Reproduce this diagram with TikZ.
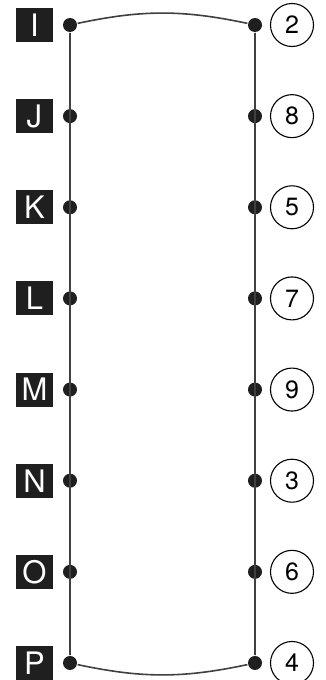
\documentclass[tikz,border=0pt]{standalone}
\usepackage{fontspec}
\setmainfont{TeX Gyre Heros}
\usepackage{tikz}
\usetikzlibrary{positioning}

\begin{document}
\begin{tikzpicture}[x=1pt,y=-1pt,line width=1.6pt,
    letter/.style={fill=black!88,text=white,minimum width=37pt,minimum height=34pt,inner sep=0pt,font=\fontsize{31}{31}\selectfont},
    number/.style={circle,draw,line width=1.1pt,minimum size=43pt,inner sep=0pt,font=\fontsize{25}{25}\selectfont},
    dot/.style={circle,fill=black!88,minimum size=14pt,inner sep=0pt}]
    \useasboundingbox (0,0) rectangle (326,680);

    \foreach \l/\n [count=\i] in {I/2,J/8,K/5,L/7,M/9,N/3,O/6,P/4}{
        \node[dot] (a\i) at (70,{25+91.14*(\i-1)}) {};
        \node[dot] (b\i) at (255,{25+91.14*(\i-1)}) {};
        \node[letter] (let\i) at (34.5,{25+91.14*(\i-1)}) {\l};
        \node[number] (num\i) at (292,{25+91.14*(\i-1)}) {\n};
    }

    \draw[black!75] (a1) -- (a8)
          (b1) -- (b8)
          (a1) to[bend left=12] (b1)
          (a8) to[bend right=12] (b8);
\end{tikzpicture}
\end{document}
